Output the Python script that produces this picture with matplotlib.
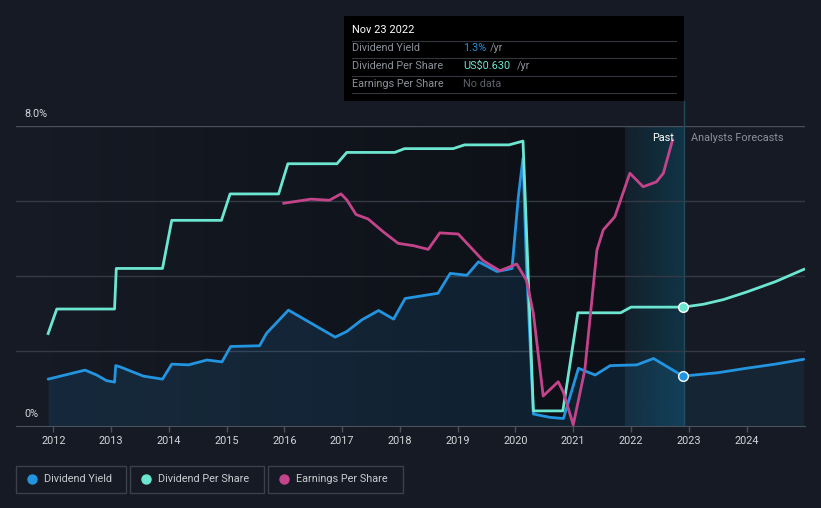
import numpy as np
import matplotlib
matplotlib.use("Agg")
import matplotlib.pyplot as plt
from matplotlib.patches import Rectangle
from matplotlib.lines import Line2D

plt.rcParams["font.family"] = ["Roboto", "DejaVu Sans"]

# Dividend Yield (%), past
yield_years = [2011.91, 2012.55, 2012.75, 2012.92, 2013.06, 2013.08, 2013.15, 2013.56, 2013.89,
               2014.05, 2014.34, 2014.66, 2014.92, 2015.07, 2015.57, 2015.69, 2016.07, 2016.88,
               2017.08, 2017.34, 2017.63, 2017.89, 2018.09, 2018.66, 2018.87, 2019.16, 2019.36,
               2019.68, 2019.94, 2020.05, 2020.13, 2020.19, 2020.31, 2020.60, 2020.83, 2020.91,
               2021.09, 2021.38, 2021.64, 2022.10, 2022.39, 2022.90]
yield_vals = [1.25, 1.49, 1.36, 1.21, 1.17, 1.61, 1.58, 1.33, 1.25,
              1.65, 1.63, 1.76, 1.71, 2.12, 2.14, 2.47, 3.09, 2.37,
              2.52, 2.83, 3.08, 2.85, 3.40, 3.54, 4.07, 4.02, 4.38,
              4.12, 4.20, 6.12, 7.14, 4.30, 0.32, 0.23, 0.20, 0.61,
              1.54, 1.36, 1.61, 1.63, 1.80, 1.33]
# Dividend Yield forecast
yield_fc_years = [2022.90, 2023.50, 2024.00, 2024.50, 2024.99]
yield_fc_vals = [1.33, 1.42, 1.54, 1.65, 1.78]

# Dividend Per Share (US$), past
dps_years = [2011.91, 2012.06, 2013.06, 2013.09, 2013.89, 2014.05, 2014.91, 2015.06, 2015.90,
             2016.06, 2016.91, 2017.08, 2017.91, 2018.08, 2018.92, 2019.12, 2019.89, 2020.13,
             2020.17, 2020.31, 2020.82, 2021.08, 2021.82, 2022.00, 2022.90]
dps_vals = [0.49, 0.62, 0.62, 0.835, 0.835, 1.09, 1.09, 1.23, 1.23,
            1.39, 1.39, 1.45, 1.45, 1.47, 1.47, 1.49, 1.49, 1.51,
            1.20, 0.08, 0.08, 0.60, 0.60, 0.63, 0.63]
# Dividend Per Share forecast
dps_fc_years = [2022.90, 2023.25, 2023.60, 2024.00, 2024.50, 2024.99]
dps_fc_vals = [0.63, 0.645, 0.67, 0.71, 0.765, 0.83]

# Earnings Per Share (relative scale)
eps_years = [2015.99, 2016.46, 2016.78, 2016.98, 2017.08, 2017.24, 2017.45, 2017.71, 2017.97,
             2018.23, 2018.49, 2018.69, 2019.01, 2019.24, 2019.44, 2019.73, 2020.02, 2020.19,
             2020.31, 2020.48, 2020.74, 2020.83, 2021.00, 2021.20, 2021.41, 2021.52, 2021.72,
             2021.98, 2022.21, 2022.44, 2022.56, 2022.72]
eps_vals = [5.94, 6.05, 6.02, 6.19, 6.03, 5.64, 5.52, 5.18, 4.87,
            4.81, 4.71, 5.15, 5.12, 4.74, 4.41, 4.14, 4.32, 3.89,
            3.00, 0.80, 1.18, 0.90, 0.03, 1.49, 4.69, 5.23, 5.58,
            6.74, 6.38, 6.51, 6.74, 7.63]

year_ticks = list(range(2012, 2025))

bg = "#151a24"
blue = "#2394df"
cyan = "#6ce6d1"
magenta = "#c4448c"
grid_c = "#343944"
txt_c = "#d4d6da"
grey_c = "#8b9099"

fig = plt.figure(figsize=(8.21, 5.08), dpi=100, facecolor=bg)
ax = fig.add_axes([16 / 821, 82 / 508, 789 / 821, 300 / 508])
ax.set_facecolor(bg)
x0, x1 = 2011.354, 2025.012

# darker "past" background and highlighted last year
n = 256
dark = np.zeros((1, n, 4))
dark[0, :, 3] = np.linspace(0, 0.42, n)
ax.imshow(dark, extent=[2011.89, 2021.89, 0, 8], aspect="auto", zorder=0.1)
teal = np.zeros((1, n, 4))
teal[0, :, :3] = matplotlib.colors.to_rgb("#0a5068")
teal[0, :, 3] = np.linspace(0.12, 0.5, n)
ax.imshow(teal, extent=[2021.89, 2022.91, 0, 8], aspect="auto", zorder=0.1)
ax.set_xlim(x0, x1)
ax.set_ylim(0, 8)

for g in [2, 4, 6]:
    ax.axhline(g, color=grid_c, lw=1, zorder=0.5)
ax.axhline(8, color="#4a4f59", lw=1, zorder=0.5)

# vertical line at the tooltip date
ax.plot([2022.91, 2022.91], [0, 8.67], color="#24495a", lw=1, zorder=0.6, clip_on=False)

# dividend yield area + line
ax.fill_between(yield_years, 0, yield_vals, color=blue, alpha=0.13, lw=0, zorder=1)
ax.fill_between(yield_fc_years, 0, yield_fc_vals, color=blue, alpha=0.09, lw=0, zorder=1)
ax.plot(yield_years, yield_vals, color=blue, lw=2, zorder=4, solid_capstyle="round")
ax.plot(yield_fc_years, yield_fc_vals, color=blue, lw=2, zorder=4, solid_capstyle="round")
ax.plot(yield_fc_years[0], yield_fc_vals[0], "o", ms=7, mfc=blue, mec="white", mew=1, zorder=6)

# DPS on its own scale
ax2 = ax.twinx()
ax2.set_ylim(0, 1.59)
ax2.plot(dps_years, dps_vals, color=cyan, lw=2, zorder=3)
ax2.plot(dps_fc_years, dps_fc_vals, color=cyan, lw=2, zorder=3)
ax2.plot(dps_fc_years[0], dps_fc_vals[0], "o", ms=7, mfc=cyan, mec="white", mew=1, zorder=6)

# EPS on its own scale
ax3 = ax.twinx()
ax3.set_ylim(0, 8)
ax3.plot(eps_years, eps_vals, color=magenta, lw=2, zorder=3)

for a in (ax2, ax3):
    a.set_xlim(x0, x1)
    a.patch.set_visible(False)
    a.set_yticks([])
    for s in a.spines.values():
        s.set_visible(False)

for s in ["top", "left", "right"]:
    ax.spines[s].set_visible(False)
ax.spines["bottom"].set_color("#4b505a")
ax.set_yticks([])
ax.set_xticks(year_ticks)
ax.set_xticklabels([str(y) for y in year_ticks])
ax.tick_params(axis="x", colors="#4b505a", labelcolor=txt_c, length=4, width=1,
               labelsize=7.8, pad=3)

fig.text(24 / 821, 1 - 114 / 508, "8.0%", color=txt_c, fontsize=7.8, va="center")
fig.text(24 / 821, 1 - 414 / 508, "0%", color=txt_c, fontsize=7.8, va="center")
fig.text(674 / 821, 1 - 138 / 508, "Past", color="white", fontsize=7.8, va="center", ha="right")
fig.text(691 / 821, 1 - 138 / 508, "Analysts Forecasts", color=grey_c, fontsize=7.8, va="center")

# tooltip
fig.add_artist(Rectangle((344 / 821, 1 - 101 / 508), 340 / 821, 85 / 508,
                         transform=fig.transFigure, fc="black", ec="none", zorder=5))
fig.text(352 / 821, 1 - 30 / 508, "Nov 23 2022", color="white", fontsize=7.9,
         va="center", zorder=6)
rows = [("Dividend Yield", "1.3%", blue, 490),
        ("Dividend Per Share", "US$0.630", cyan, 517),
        ("Earnings Per Share", "No data", "#5d6169", None)]
for i, (lab, val, col, unit_x) in enumerate(rows):
    yy = 48 + i * 18
    fig.text(352 / 821, 1 - yy / 508, lab, color=grey_c, fontsize=7.8, va="center", zorder=6)
    fig.text(463 / 821, 1 - yy / 508, val, color=col, fontsize=7.8, va="center", zorder=6)
    if unit_x:
        fig.text(unit_x / 821, 1 - yy / 508, "/yr", color=grey_c, fontsize=7.8,
                 va="center", zorder=6)
for yy in [40.5, 57.5, 75.5, 93]:
    fig.add_artist(Line2D([352 / 821, 676 / 821], [1 - yy / 508, 1 - yy / 508],
                          color="#33363c", lw=0.8, zorder=6))

# legend
legend = [("Dividend Yield", blue, 16, 110), ("Dividend Per Share", cyan, 130, 134),
          ("Earnings Per Share", magenta, 268, 135)]
for lab, col, lx, lw in legend:
    fig.add_artist(Rectangle((lx / 821, 1 - 493 / 508), lw / 821, 27 / 508,
                             transform=fig.transFigure, fc="none", ec="#3b404a", lw=1))
    fig.add_artist(Line2D([(lx + 16) / 821], [1 - 479 / 508], marker="o", ms=6.5,
                          color=col, lw=0))
    fig.text((lx + 28) / 821, 1 - 479 / 508, lab, color="#c8cbd0", fontsize=7.8, va="center")

fig.savefig("out.png", dpi=100, facecolor=bg)
